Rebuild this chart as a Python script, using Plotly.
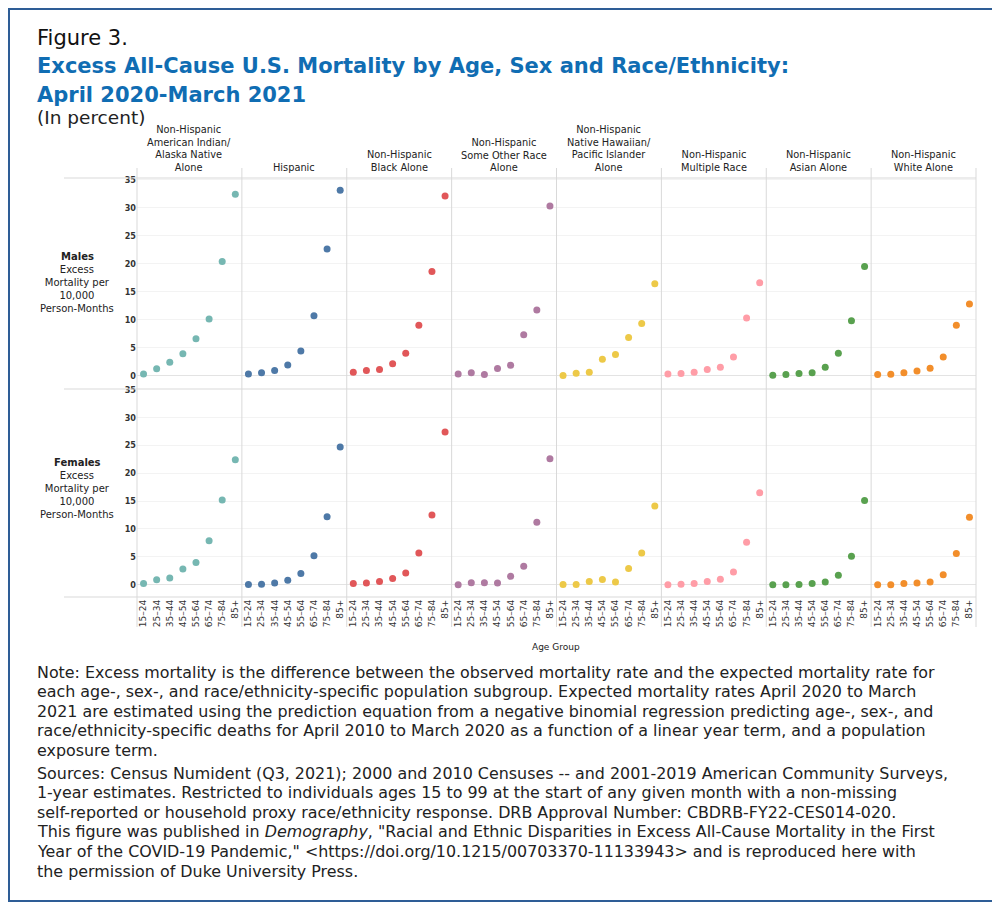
import plotly.graph_objects as go
from plotly.subplots import make_subplots

age_groups = ["15–24", "25–34", "35–44", "45–54", "55–64", "65–74", "75–84", "85+"]

group_labels = [
    "Non-Hispanic<br>American Indian/<br>Alaska Native<br>Alone",
    "Hispanic",
    "Non-Hispanic<br>Black Alone",
    "Non-Hispanic<br>Some Other Race<br>Alone",
    "Non-Hispanic<br>Native Hawaiian/<br>Pacific Islander<br>Alone",
    "Non-Hispanic<br>Multiple Race",
    "Non-Hispanic<br>Asian Alone",
    "Non-Hispanic<br>White Alone",
]

# Males: excess mortality per 10,000 person-months
males_aian = [0.3, 1.2, 2.4, 3.9, 6.6, 10.1, 20.4, 32.4]
males_hispanic = [0.3, 0.5, 0.9, 1.9, 4.4, 10.7, 22.6, 33.1]
males_black = [0.6, 0.9, 1.1, 2.1, 4.0, 9.0, 18.6, 32.1]
males_other = [0.3, 0.5, 0.2, 1.25, 1.85, 7.3, 11.7, 30.3]
males_nhpi = [0.0, 0.4, 0.6, 2.9, 3.75, 6.8, 9.3, 16.4]
males_multiple = [0.3, 0.36, 0.6, 1.1, 1.5, 3.3, 10.3, 16.6]
males_asian = [0.06, 0.2, 0.36, 0.5, 1.5, 4.0, 9.8, 19.5]
males_white = [0.2, 0.24, 0.5, 0.8, 1.3, 3.3, 9.0, 12.8]

# Females
females_aian = [0.2, 0.9, 1.2, 2.8, 4.0, 7.9, 15.2, 22.4]
females_hispanic = [0.06, 0.1, 0.3, 0.8, 2.0, 5.2, 12.2, 24.7]
females_black = [0.2, 0.3, 0.6, 1.1, 2.1, 5.7, 12.5, 27.4]
females_other = [0.0, 0.36, 0.36, 0.3, 1.5, 3.3, 11.2, 22.6]
females_nhpi = [0.06, 0.06, 0.6, 0.95, 0.5, 2.9, 5.7, 14.1]
females_multiple = [0.0, 0.1, 0.2, 0.6, 1.0, 2.3, 7.6, 16.5]
females_asian = [0.0, 0.0, 0.06, 0.24, 0.5, 1.7, 5.1, 15.1]
females_white = [0.0, 0.0, 0.2, 0.3, 0.5, 1.8, 5.6, 12.1]

y_ticks = [0, 5, 10, 15, 20, 25, 30, 35]

males = [males_aian, males_hispanic, males_black, males_other,
         males_nhpi, males_multiple, males_asian, males_white]
females = [females_aian, females_hispanic, females_black, females_other,
           females_nhpi, females_multiple, females_asian, females_white]
colors = ["#76b7b2", "#4e79a7", "#e15759", "#af7aa1",
          "#edc948", "#ff9da7", "#59a14f", "#f28e2b"]

OFF = 8  # page body margin
W, H = 1000 - OFF, 912 - OFF
L, R, T, B = 137 - OFF, 976 - OFF, 178 - OFF, 597 - OFF
PW, PH = R - L, B - T


def px(x):
    return (x - OFF - L) / PW


def py(y):
    return (B - (y - OFF)) / PH


fig = make_subplots(rows=2, cols=8, horizontal_spacing=0, vertical_spacing=0,
                    row_heights=[211, 208])

for c in range(8):
    for r, data in enumerate([males, females]):
        fig.add_trace(go.Scatter(
            x=age_groups, y=data[c], mode="markers",
            marker=dict(color=colors[c], size=7, line=dict(width=0)),
            showlegend=False, hoverinfo="x+y"), row=r + 1, col=c + 1)

tick_font = dict(family="Liberation Sans Narrow, DejaVu Sans Condensed, Arial Narrow", size=9,
                 color="#333333", weight="bold")
for r in (1, 2):
    for c in range(1, 9):
        fig.update_xaxes(row=r, col=c, type="category", categoryorder="array",
                         categoryarray=age_groups, range=[-0.5, 7.5],
                         showgrid=False, zeroline=False, showline=False,
                         showticklabels=(r == 2), tickangle=-90, ticks="",
                         tickfont=dict(family="DejaVu Sans", size=9, color="#333333"))
        fig.update_yaxes(row=r, col=c,
                         range=[-2.4, 35.3] if r == 1 else [-2.2, 35.1],
                         tickvals=y_ticks, showgrid=True, gridcolor="#f3f3f3",
                         gridwidth=1, zeroline=True, zerolinecolor="#e3e3e3",
                         zerolinewidth=1, showline=False, ticks="",
                         showticklabels=(c == 1), tickfont=tick_font)

shapes = []
line_col = "#d9d9d9"
for k in range(9):
    x = px(137 + 839 * k / 8)
    shapes.append(dict(type="line", xref="paper", yref="paper", x0=x, x1=x,
                       y0=py(168), y1=py(627), line=dict(color=line_col, width=1)))
for yy in (178, 389, 597):
    shapes.append(dict(type="line", xref="paper", yref="paper", x0=px(64), x1=px(976),
                       y0=py(yy), y1=py(yy), line=dict(color=line_col, width=1)))
# outer frame (figure pixel coords; page has 8px body offset)
fx0, fy0, fx1, fy1 = 1, 1, 985, 893
shapes.append(dict(type="rect", xref="paper", yref="paper",
                   x0=(fx0 - L) / PW, x1=(fx1 - L) / PW,
                   y0=(B - fy1) / PH, y1=(B - fy0) / PH,
                   line=dict(color="#2e5d96", width=2), fillcolor="rgba(0,0,0,0)"))

ann = []
BASE = "DejaVu Sans"
lab_font = dict(family=BASE, size=9.8, color="#222222")
for c in range(8):
    ann.append(dict(xref="paper", yref="paper", x=px(137 + 839 * (c + 0.5) / 8), y=py(175),
                    text=group_labels[c], showarrow=False, xanchor="center",
                    yanchor="bottom", align="center", font=lab_font))

for name, ytop in (("Males", 256), ("Females", 462)):
    ann.append(dict(xref="paper", yref="paper", x=px(77), y=py(ytop), text="<b>" + name + "</b>",
                    showarrow=False, xanchor="center", yanchor="middle",
                    font=dict(family=BASE, size=10, color="#222222")))
    ann.append(dict(xref="paper", yref="paper", x=px(77), y=py(ytop + 33),
                    text="Excess<br>Mortality per<br>10,000<br>Person-Months",
                    showarrow=False, xanchor="center", yanchor="middle", align="center",
                    font=dict(family=BASE, size=10, color="#222222")))

ann.append(dict(xref="paper", yref="paper", x=px(556), y=py(647), text="Age Group",
                showarrow=False, xanchor="center", yanchor="middle",
                font=dict(family=BASE, size=9, color="#222222")))


def text_line(txt, x, y, font):
    ann.append(dict(xref="paper", yref="paper", x=px(x), y=py(y), text=txt,
                    showarrow=False, xanchor="left", yanchor="middle", align="left",
                    font=font))


text_line("Figure 3.", 35, 38, dict(family=BASE, size=21, color="#111111"))
title_font = dict(family=BASE, size=21, color="#106db3", weight="bold")
text_line("Excess All-Cause U.S. Mortality by Age, Sex and Race/Ethnicity:", 35, 66, title_font)
text_line("April 2020-March 2021", 35, 95, title_font)
text_line("(In percent)", 35, 118, dict(family=BASE, size=18.5, color="#222222"))

note_lines = [
    "Note: Excess mortality is the difference between the observed mortality rate and the expected mortality rate for",
    "each age-, sex-, and race/ethnicity-specific population subgroup. Expected mortality rates April 2020 to March",
    "2021 are estimated using the prediction equation from a negative binomial regression predicting age-, sex-, and",
    "race/ethnicity-specific deaths for April 2010 to March 2020 as a function of a linear year term, and a population",
    "exposure term.",
]
source_lines = [
    "Sources: Census Numident (Q3, 2021); 2000 and 2010 Censuses -- and 2001-2019 American Community Surveys,",
    "1-year estimates. Restricted to individuals ages 15 to 99 at the start of any given month with a non-missing",
    "self-reported or household proxy race/ethnicity response. DRB Approval Number: CBDRB-FY22-CES014-020.",
    "This figure was published in <i>Demography</i>, \"Racial and Ethnic Disparities in Excess All-Cause Mortality in the First",
    "Year of the COVID-19 Pandemic,\" &lt;https://doi.org/10.1215/00703370-11133943&gt; and is reproduced here with",
    "the permission of Duke University Press.",
]
note_font = dict(family=BASE, size=15.9, color="#222222")
for i, t in enumerate(note_lines):
    text_line(t, 35, 672 + 19.6 * i, note_font)
for i, t in enumerate(source_lines):
    text_line(t, 35, 773 + 19.6 * i, note_font)

fig.update_layout(width=W, height=H, margin=dict(l=L, r=W - R, t=T, b=H - B),
                  paper_bgcolor="white", plot_bgcolor="white",
                  shapes=shapes, annotations=ann, showlegend=False)

fig.write_html("out.html")
